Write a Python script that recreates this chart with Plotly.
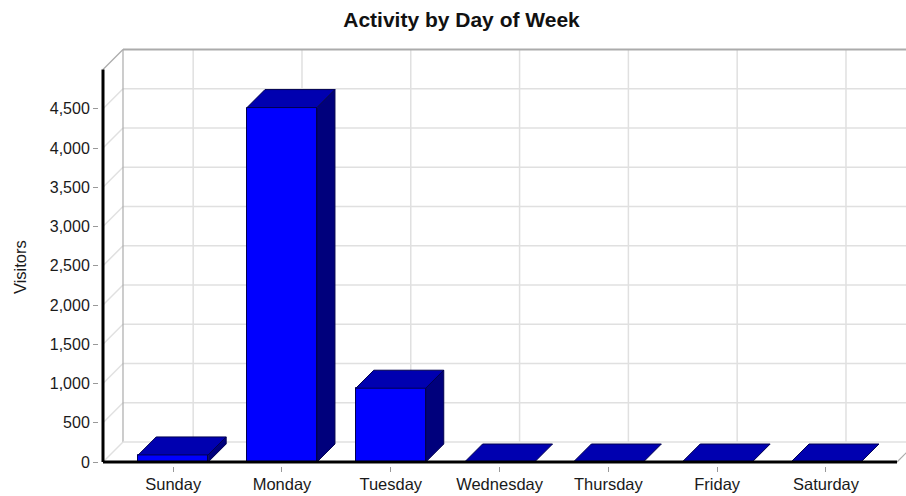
import plotly.graph_objects as go

# ---- data ----
days = ["Sunday", "Monday", "Tuesday", "Wednesday", "Thursday", "Friday", "Saturday"]
visitors = [90, 4515, 940, 0, 0, 0, 0]
ytick_vals = [0, 500, 1000, 1500, 2000, 2500, 3000, 3500, 4000, 4500]
y_top = 5000
title_text = "Activity by Day of Week"
y_title = "Visitors"

# ---- geometry (pseudo-3D) ----
W, H = 906, 496
L_PX, R_PX, T_PX, B_PX = 99, 906, 45, 466
KX = 108.8          # px per category unit
KY = 0.0785         # px per visitor unit
ZERO_PX = 462       # pixel row of value 0
FRONT_LEFT_PX = 103
x0 = -0.645 - (FRONT_LEFT_PX - L_PX) / KX
x1 = x0 + (R_PX - L_PX) / KX
ymin = -(B_PX - ZERO_PX) / KY
ymax = (ZERO_PX - T_PX) / KY

xl, xr = -0.645, len(days) - 1 + 0.653
dxw, dyw = 20 / KX, 20 / KY      # wall depth
dxb, dyb = 18 / KX, 18 / KY      # bar depth
bw = 0.643                       # bar width

FRONT = "#0000FF"
TOP = "#0000B0"
SIDE = "#00007C"
EDGE = "#000050"
GRID = "#E0E0E0"
WALL = "#ABABAB"

xs = list(range(len(days)))
fig = go.Figure()

shapes = []
def line(xa, ya, xb, yb, color, width):
    shapes.append(dict(type="line", xref="x", yref="y", x0=xa, y0=ya, x1=xb, y1=yb,
                       line=dict(color=color, width=width), layer="below"))

# back wall horizontal grid + side wall diagonals
for v in ytick_vals[1:]:
    line(xl + dxw, v + dyw, xr + dxw, v + dyw, GRID, 1.5)
    line(xl, v, xl + dxw, v + dyw, GRID, 1.5)
# back wall vertical grid at categories
for i in xs:
    line(i + dxw, dyw, i + dxw, y_top + dyw, GRID, 1.5)
# wall borders
line(xl + dxw, y_top + dyw, xr + dxw, y_top + dyw, WALL, 2)
line(xl, y_top, xl + dxw, y_top + dyw, WALL, 1.2)
line(xl + dxw, dyw, xl + dxw, y_top + dyw, WALL, 1.2)
# floor
line(xl + dxw, dyw, xr + dxw, dyw, GRID, 1.5)
line(xl, 0, xl + dxw, dyw, GRID, 1.5)
line(xr, 0, xr + dxw, dyw, WALL, 1.2)
line(xr + dxw, dyw, xr + dxw, y_top + dyw, WALL, 1.2)

# front faces
fig.add_trace(go.Bar(x=xs, y=visitors, width=bw, marker=dict(color=FRONT, line=dict(color=EDGE, width=1)),
                     hoverinfo="skip", showlegend=False))

# top and side faces
for i, v in zip(xs, visitors):
    a, b = i - bw / 2, i + bw / 2
    fig.add_trace(go.Scatter(x=[a, a + dxb, b + dxb, b, a], y=[v, v + dyb, v + dyb, v, v],
                             fill="toself", fillcolor=TOP, mode="lines", line=dict(color=EDGE, width=1),
                             hoverinfo="skip", showlegend=False))
    if v > 0:
        fig.add_trace(go.Scatter(x=[b, b + dxb, b + dxb, b, b], y=[0, dyb, v + dyb, v, 0],
                                 fill="toself", fillcolor=SIDE, mode="lines", line=dict(color=EDGE, width=1),
                                 hoverinfo="skip", showlegend=False))

# front axis lines
shapes.append(dict(type="line", xref="x", yref="y", x0=xl, y0=0, x1=xr, y1=0,
                   line=dict(color="black", width=3), layer="above"))
shapes.append(dict(type="line", xref="x", yref="y", x0=xl, y0=0, x1=xl, y1=y_top,
                   line=dict(color="black", width=3), layer="above"))

font_family = "Liberation Sans, Arial, sans-serif"
fig.update_layout(
    width=W, height=H,
    margin=dict(l=L_PX, r=W - R_PX, t=T_PX, b=H - B_PX, pad=0),
    paper_bgcolor="white", plot_bgcolor="white",
    shapes=shapes,
    bargap=0,
    font=dict(family=font_family, size=16, color="#1a1a1a"),
    title=dict(text="<b>" + title_text + "</b>", x=461.5 / W, xanchor="center",
               xref="container", yref="container", y=1 - 20 / H, yanchor="middle",
               font=dict(size=21, family=font_family, color="#111")),
    xaxis=dict(range=[x0, x1], tickvals=xs, ticktext=days, showgrid=False, zeroline=False,
               showline=False, ticks="outside", ticklen=5, tickcolor="#999", tickwidth=1,
               tickfont=dict(size=16.5), ticklabelstandoff=-2),
    yaxis=dict(range=[ymin, ymax], tickvals=ytick_vals, tickformat=",d", showgrid=False,
               zeroline=False, showline=False, ticks="outside", ticklen=5, tickcolor="#999",
               tickwidth=1, tickfont=dict(size=16)),
    annotations=[dict(text=y_title, textangle=-90, xref="paper", yref="paper",
                      x=(20 - L_PX) / (R_PX - L_PX), y=(B_PX - 267) / (B_PX - T_PX),
                      xanchor="center", yanchor="middle", showarrow=False,
                      font=dict(size=16.5, family=font_family))],
)

fig.write_html("out.html", config={"displayModeBar": False},
               post_script="document.body.style.margin='0';document.body.style.overflow='hidden';")
